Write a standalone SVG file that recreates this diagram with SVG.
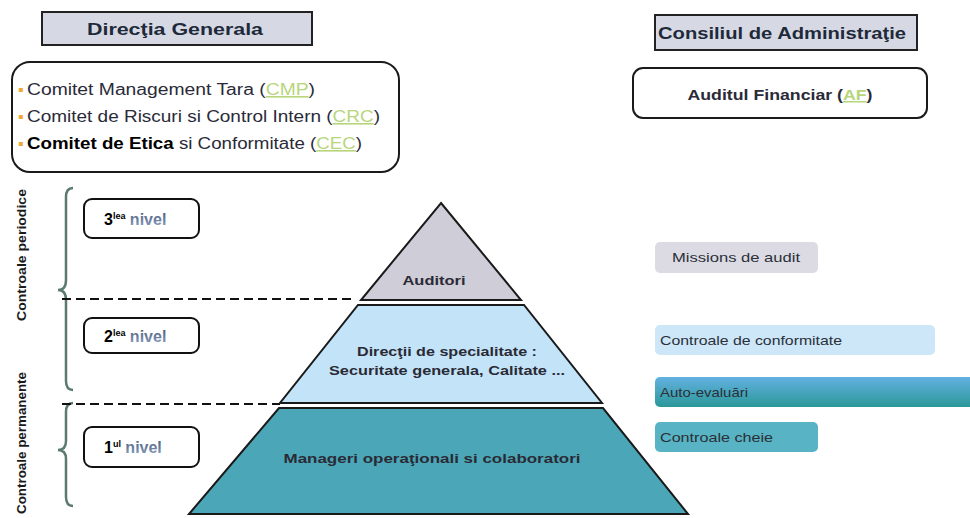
<svg xmlns="http://www.w3.org/2000/svg" width="970" height="518" viewBox="0 0 970 518">
<defs>
<linearGradient id="gAuto" x1="0" y1="0" x2="0" y2="1">
<stop offset="0" stop-color="#63b1e2"/>
<stop offset="1" stop-color="#2b9898"/>
</linearGradient>
<linearGradient id="gNivel" x1="0" y1="0" x2="0" y2="1">
<stop offset="0" stop-color="#4a5a7a"/>
<stop offset="1" stop-color="#8aa0c0"/>
</linearGradient>
</defs>
<style>
text{font-family:"Liberation Sans",Arial,sans-serif;}
.title{fill:#d6d9e4;stroke:#222;stroke-width:2;}
.ttl{font-size:17px;font-weight:bold;fill:#1e2a3a;text-anchor:middle;}
.rbox{fill:#fff;stroke:#1a1a1a;stroke-width:2;}
.com{font-size:16px;fill:#2a2a38;}
.acr{fill:#b7d67c;text-decoration:underline;}
.bul{fill:#f0a830;}
.lvl{fill:#fff;stroke:#111;stroke-width:2;}
.num{font-size:16px;font-weight:bold;fill:#000;}
.sup{font-size:9px;font-weight:bold;fill:#000;}
.niv{font-size:16px;font-weight:bold;fill:url(#gNivel);}
.dash{stroke:#111;stroke-width:2;stroke-dasharray:9 5;fill:none;}
.brace{stroke:#5a7a72;stroke-width:2.5;fill:none;}
.vt{font-size:12px;font-weight:bold;fill:#1a1a1a;text-anchor:middle;}
.tier{stroke:#1a1a1a;stroke-width:2;}
.pt{font-size:13px;font-weight:bold;fill:#2a2a35;text-anchor:middle;}
.side{font-size:13px;fill:#2a3038;}
</style>

<g id="directia-generala">
<rect class="title" x="42" y="12" width="270" height="33"/>
<text class="ttl" x="175" y="35" textLength="176" lengthAdjust="spacingAndGlyphs">Direcţia Generala</text>
</g>

<g id="comitete">
<rect class="rbox" x="12" y="62" width="387" height="110" rx="18"/>
<text class="com" x="18" y="95"><tspan class="bul">▪</tspan></text>
<text class="com" x="27" y="95" textLength="288" lengthAdjust="spacingAndGlyphs">Comitet Management Tara (<tspan class="acr">CMP</tspan>)</text>
<text class="com" x="18" y="122"><tspan class="bul">▪</tspan></text>
<text class="com" x="27" y="122" textLength="353" lengthAdjust="spacingAndGlyphs">Comitet de Riscuri si Control Intern (<tspan class="acr">CRC</tspan>)</text>
<text class="com" x="18" y="149"><tspan class="bul">▪</tspan></text>
<text class="com" x="27" y="149" textLength="335" lengthAdjust="spacingAndGlyphs"><tspan font-weight="bold" fill="#000">Comitet de Etica</tspan> si Conformitate (<tspan class="acr">CEC</tspan>)</text>
</g>

<g id="consiliul">
<rect class="title" x="655" y="15" width="262" height="35"/>
<text class="ttl" x="782" y="39" textLength="248" lengthAdjust="spacingAndGlyphs">Consiliul de Administraţie</text>
</g>

<g id="auditul-financiar">
<rect class="rbox" x="633" y="68" width="294" height="50" rx="10"/>
<text x="780" y="100" font-size="15" font-weight="bold" fill="#2a2a38" text-anchor="middle" textLength="185" lengthAdjust="spacingAndGlyphs">Auditul Financiar (<tspan class="acr" fill="#8ac0a0">AF</tspan>)</text>
</g>

<g id="lateral">
<text class="vt" transform="translate(26,255) rotate(-90)" textLength="132" lengthAdjust="spacingAndGlyphs">Controale periodice</text>
<text class="vt" transform="translate(26,443) rotate(-90)" textLength="142" lengthAdjust="spacingAndGlyphs">Controale permanente</text>
<path class="brace" d="M73,188 Q66,188 66,197 L66,280 Q66,290 58,290 Q66,290 66,300 L66,381 Q66,390 73,390"/>
<path class="brace" d="M73,403 Q66,403 66,412 L66,441 Q66,450 58,450 Q66,450 66,459 L66,497 Q66,506 73,506"/>
</g>

<g id="nivel-3">
<rect class="lvl" x="84" y="199" width="115" height="39" rx="8"/>
<text x="104" y="225"><tspan class="num">3</tspan><tspan class="sup" dy="-6">lea</tspan><tspan class="niv" dy="6"> nivel</tspan></text>
</g>
<g id="nivel-2">
<rect class="lvl" x="84" y="318" width="115" height="35" rx="8"/>
<text x="104" y="342"><tspan class="num">2</tspan><tspan class="sup" dy="-6">lea</tspan><tspan class="niv" dy="6"> nivel</tspan></text>
</g>
<g id="nivel-1">
<rect class="lvl" x="84" y="427" width="115" height="40" rx="8"/>
<text x="104" y="453"><tspan class="num">1</tspan><tspan class="sup" dy="-6">ul</tspan><tspan class="niv" dy="6"> nivel</tspan></text>
</g>

<g id="separatoare">
<line class="dash" x1="62" y1="299" x2="356" y2="299"/>
<line class="dash" x1="62" y1="404" x2="280" y2="404"/>
</g>

<g id="auditori">
<polygon class="tier" fill="#cfcdd7" points="441,203 521,300 361,300"/>
<text class="pt" x="434" y="285" textLength="63" lengthAdjust="spacingAndGlyphs">Auditori</text>
</g>
<g id="directii">
<polygon class="tier" fill="#c3e3f8" points="358,305 524,305 602,403 280,403"/>
<text class="pt" x="447" y="356" textLength="180" lengthAdjust="spacingAndGlyphs">Direcţii de specialitate  :</text>
<text class="pt" x="447" y="375" textLength="236" lengthAdjust="spacingAndGlyphs">Securitate generala, Calitate    ...</text>
</g>
<g id="manageri">
<polygon class="tier" fill="#4ba7b8" points="279,408 603,408 688,514 189,514"/>
<text class="pt" x="432" y="463" textLength="297" lengthAdjust="spacingAndGlyphs">Manageri operaţionali  si colaboratori</text>
</g>

<g id="missions">
<rect x="655" y="242" width="163" height="31" rx="5" fill="#dcdbe3"/>
<text class="side" x="672" y="262" textLength="128" lengthAdjust="spacingAndGlyphs">Missions de audit</text>
</g>
<g id="conformitate">
<rect x="655" y="325" width="280" height="30" rx="5" fill="#cde7f8"/>
<text class="side" x="660" y="345" textLength="182" lengthAdjust="spacingAndGlyphs">Controale  de conformitate</text>
</g>
<g id="auto-evaluari">
<rect x="655" y="377" width="320" height="30" rx="5" fill="url(#gAuto)"/>
<text class="side" x="660" y="397" textLength="88" lengthAdjust="spacingAndGlyphs">Auto-evaluări</text>
</g>
<g id="controale-cheie">
<rect x="655" y="422" width="163" height="30" rx="5" fill="#58b3c4"/>
<text class="side" x="660" y="442" textLength="113" lengthAdjust="spacingAndGlyphs">Controale  cheie</text>
</g>
</svg>
